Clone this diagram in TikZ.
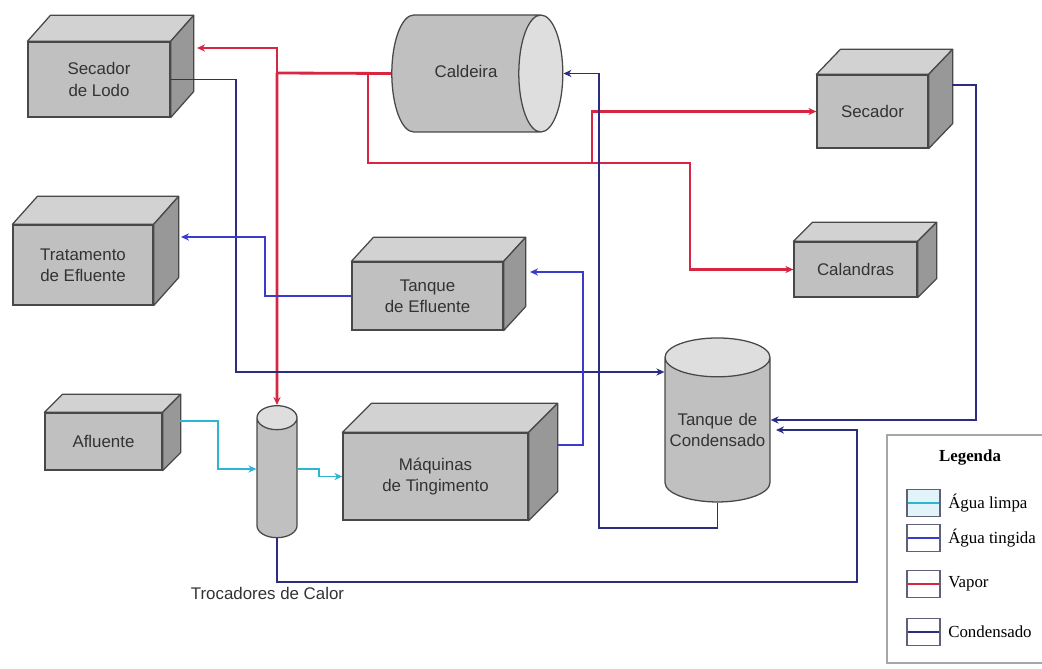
\documentclass[tikz,border=0pt]{standalone}
\usepackage{fontspec}
\setmainfont{Liberation Sans}
\newfontfamily\legfont{Liberation Serif}
\usetikzlibrary{positioning,arrows.meta,calc,shapes.geometric}
\definecolor{VaporRed}{RGB}{214,38,66}
\definecolor{CondNavy}{RGB}{44,44,128}
\definecolor{TintBlue}{RGB}{58,58,205}
\definecolor{CleanCyan}{RGB}{48,180,212}
\definecolor{BoxFront}{RGB}{192,192,192}
\definecolor{BoxTop}{RGB}{210,210,210}
\definecolor{BoxSide}{RGB}{152,152,152}
\definecolor{BoxEdge}{RGB}{72,72,72}
\definecolor{TankEnd}{RGB}{222,222,222}
\definecolor{LegEdge}{RGB}{96,96,120}
\newlength\pxu
\setlength\pxu{0.025cm}
\newcommand\boxfont{\fontsize{12}{15}\selectfont}
\newcommand\legsize{\legfont\fontsize{12}{14}\selectfont}
\tikzset{
  vapor/.style={-{Stealth[length=2mm,width=1.8mm]},line width=2pt,draw=VaporRed},
  vaporline/.style={line width=2pt,draw=VaporRed},
  cond/.style={-{Stealth[length=2mm,width=1.8mm]},line width=1.3pt,draw=CondNavy},
  tint/.style={-{Stealth[length=2mm,width=1.8mm]},line width=1.3pt,draw=TintBlue},
  clean/.style={-{Stealth[length=2mm,width=1.8mm]},line width=1.3pt,draw=CleanCyan},
  box3d/.style 2 args={draw=BoxEdge,fill=BoxFront,line width=0.9pt,align=center,
    inner sep=0pt,font=\boxfont,text=black!80,
    append after command={\pgfextra{
      \filldraw[draw=BoxEdge,fill=BoxTop,line width=0.9pt,line join=round]
        (\tikzlastnode.north west) -- ++(#1,-#2)
        -- ([shift={(#1,-#2)}]\tikzlastnode.north east) -- (\tikzlastnode.north east) -- cycle;
      \filldraw[draw=BoxEdge,fill=BoxSide,line width=0.9pt,line join=round]
        (\tikzlastnode.north east) -- ++(#1,-#2)
        -- ([shift={(#1,-#2)}]\tikzlastnode.south east) -- (\tikzlastnode.south east) -- cycle;
    }}},
  tank/.style={cylinder,draw=BoxEdge,line width=0.9pt,cylinder uses custom fill,
    cylinder body fill=BoxFront,cylinder end fill=TankEnd,align=center,
    inner sep=0pt,font=\boxfont,text=black!80},
  legsym/.style={draw=LegEdge,line width=0.8pt,minimum width=33\pxu,
    minimum height=27\pxu,inner sep=0pt,
    path picture={\draw[line width=1.3pt,#1] (path picture bounding box.west)
      -- (path picture bounding box.east);}},
  legtext/.style={font=\legsize,inner sep=1pt}
}

\begin{document}
\begin{tikzpicture}[x=0.025cm,y=-0.025cm]
  \useasboundingbox (0,0) rectangle (1042,669);
  % boxes
  \node[box3d={23}{26},minimum width=142\pxu,minimum height=75\pxu] (lodo) at (99,79.5) {Secador\\de Lodo};
  \node[box3d={25}{28},minimum width=140\pxu,minimum height=80\pxu] (trat) at (83,265) {Tratamento\\de Efluente};
  \node[box3d={18}{18},minimum width=117\pxu,minimum height=57\pxu] (aflu) at (103.5,441.5) {Afluente};
  \node[box3d={22}{24},minimum width=151\pxu,minimum height=68\pxu] (tqef) at (427.5,296) {Tanque\\de Efluente};
  \node[box3d={29}{29},minimum width=185\pxu,minimum height=87\pxu] (maq) at (435.5,476.5) {Máquinas\\de Tingimento};
  \node[box3d={24}{25},minimum width=111\pxu,minimum height=73\pxu] (seca) at (872.5,111.5) {Secador};
  \node[box3d={19}{19},minimum width=123\pxu,minimum height=55\pxu] (cala) at (855.5,269.5) {Calandras};
  % tanks (minimum height runs along the axis, text box sets the diameter)
  \node[tank,aspect=0.376,text height=63\pxu,text depth=54\pxu,minimum height=171\pxu] (cald) at (466,73.5) {Caldeira};
  \node[tank,shape border rotate=90,aspect=0.37,text width=105\pxu,minimum height=164\pxu] (tcon) at (717.5,430) {Tanque de\\Condensado};
  \node[tank,shape border rotate=90,aspect=0.6,text width=40\pxu,minimum height=132\pxu] (troc) at (277,478) {};
  \node[font=\boxfont,text=black!80] (trocl) at (267.5,593) {Trocadores de Calor};
  % vapor
  \coordinate (vA) at (277,73);
  \coordinate (vB) at (368,73);
  \coordinate (vC) at (690,163);
  \coordinate (vD) at (592,163);
  \coordinate (lodoIn) at (197,48);
  \draw[vaporline] (cald.west) -- (vA);
  \draw[vapor] (vA) |- (lodoIn);
  \draw[vapor] (vA) -- (troc.north);
  \draw[vapor] (vB) |- (vC) |- (cala.west);
  \draw[vapor] (vD) |- (seca.west);
  % condensado
  \coordinate (cA) at (236,372);
  \coordinate (cB) at (976,420);
  \coordinate (cC) at (857,582);
  \coordinate (cD) at (599,528);
  \coordinate (secaOut) at (952,85);
  \coordinate (tconIn) at (776,430);
  \draw[cond] (lodo.east) -| (cA) -- (tcon.west |- cA);
  \draw[cond] (secaOut) -| (cB) -- (tcon.east |- cB);
  \draw[cond] (troc.south) |- (cC) |- (tconIn);
  \draw[cond] (tcon.south) |- (cD) |- (cald.east);
  % agua tingida
  \coordinate (maqOut) at (557,445);
  \coordinate (tA) at (583,272);
  \coordinate (tB) at (265,237);
  \coordinate (tqefIn) at (530,272);
  \coordinate (tratIn) at (181,237);
  \draw[tint] (maqOut) -| (tA) -- (tqefIn);
  \draw[tint] (tqef.west) -| (tB) -- (tratIn);
  % agua limpa
  \coordinate (afluOut) at (180,421);
  \coordinate (kA) at (218,469);
  \draw[clean] (afluOut) -| (kA) -- (troc.west |- kA);
  \draw[clean] (troc.east |- kA) -- ++(21,0) |- (maq.west);
  % legenda
  \draw[draw=gray!70,line width=0.8pt] (1042,435) -| (887,663) -- (1042,663);
  \node[font=\legsize\bfseries] (legt) at (970,458) {Legenda};
  \node[legsym=CleanCyan,fill=CleanCyan!15] (ls1) at (923.5,503) {};
  \node[legsym=TintBlue] (ls2) at (923.5,538) {};
  \node[legsym=VaporRed] (ls3) at (923.5,584) {};
  \node[legsym=CondNavy] (ls4) at (923.5,632) {};
  \node[legtext,right=0.15cm of ls1] (lt1) {Água limpa};
  \node[legtext,right=0.15cm of ls2] (lt2) {Água tingida};
  \node[legtext,right=0.15cm of ls3] (lt3) {Vapor};
  \node[legtext,right=0.15cm of ls4] (lt4) {Condensado};
\end{tikzpicture}
\end{document}
